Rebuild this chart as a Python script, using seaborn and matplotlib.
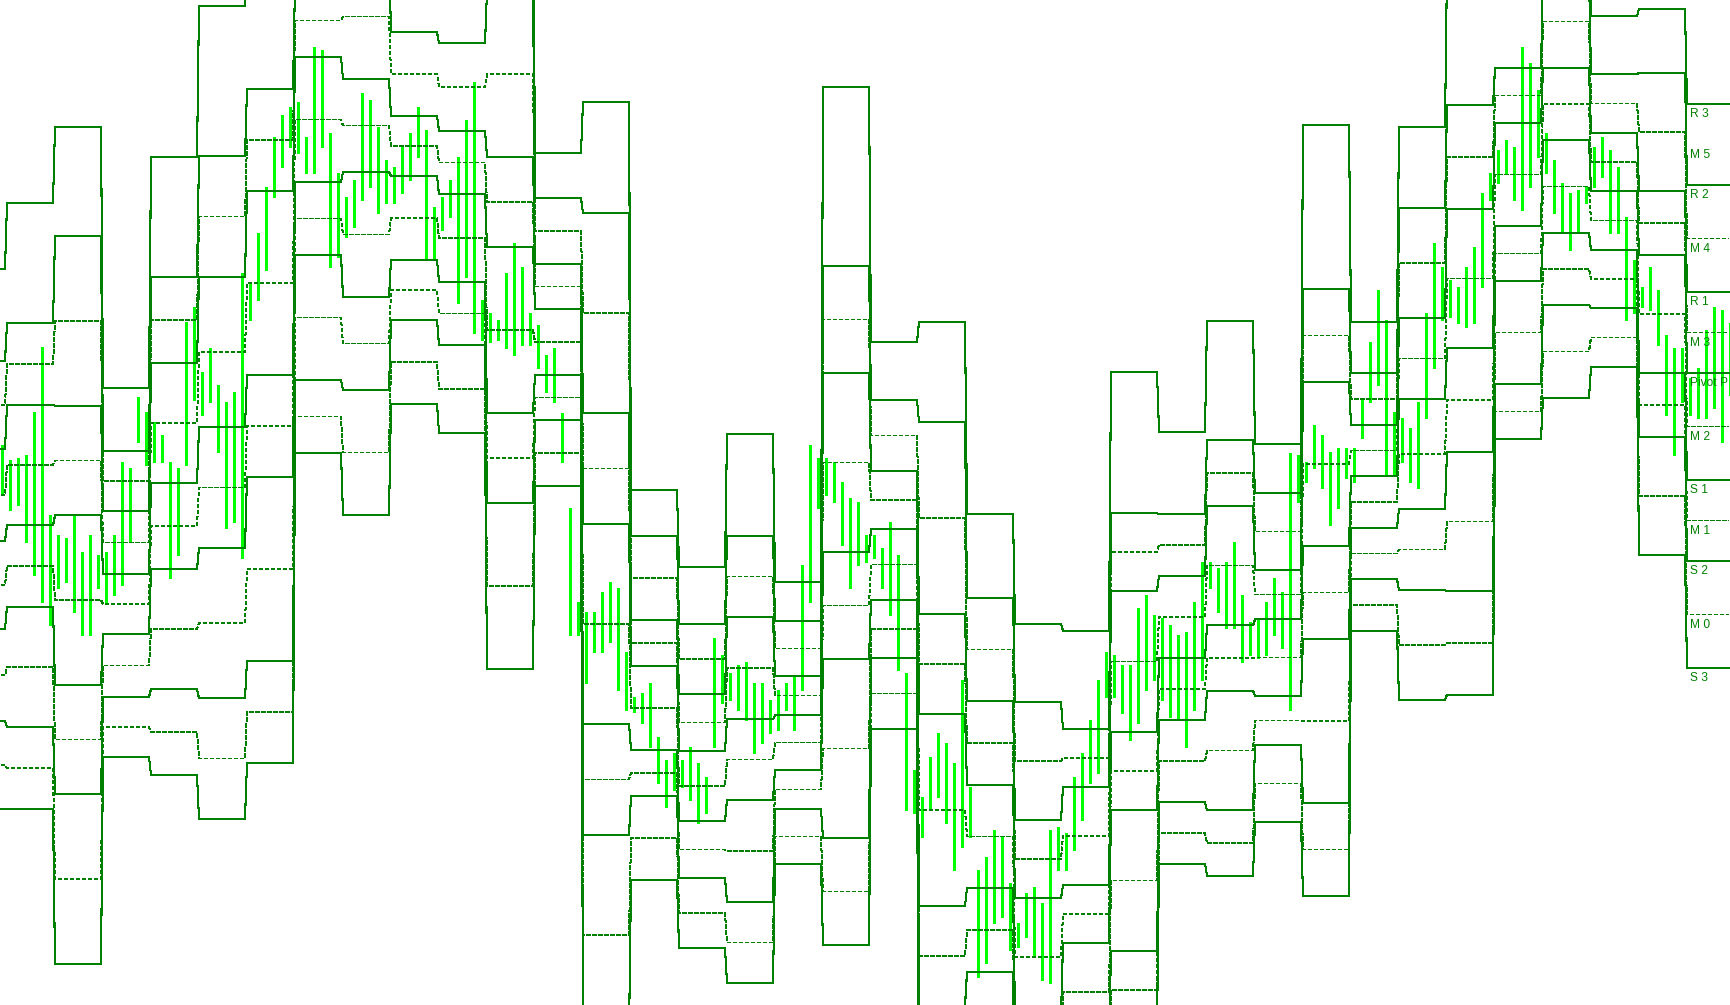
import numpy as np
import pandas as pd
import matplotlib
matplotlib.use("Agg")
import matplotlib.pyplot as plt
import seaborn as sns

# ── prior-day high / low / close (price in points) ───────────
# entry i is day i-2; each day's H/L/C sets the pivot grid of the next day
day_high = [552, 561, 659, 491, 608, 698, 732, 896, 958, 913, 898, 924, 761,
            680, 423, 324, 366, 344, 560, 547, 483, 323, 225, 177, 351, 408,
            445, 462, 552, 580, 715, 760, 833, 958, 873, 868, 738]
day_low = [372, 359, 380, 368, 402, 427, 446, 698, 740, 769, 747, 668, 650,
           369, 293, 197, 183, 250, 274, 418, 191, 136, 29, 21, 132, 264,
           260, 336, 295, 477, 524, 517, 675, 793, 756, 686, 550]
day_close = [468, 519, 430, 434, 556, 608, 712, 875, 801, 805, 787, 682, 676,
             393, 301, 241, 308, 275, 525, 463, 199, 201, 67, 161, 336, 368,
             434, 359, 530, 529, 578, 693, 828, 844, 813, 696, 607]

# ── 4-hour price bars (points); the first bar closes at the start of day 0 ──
bar_high = [560,
            545, 547, 550, 593, 658, 490,   470, 467, 490, 453, 470, 450,
            453, 470, 543, 537, 608, 593,   583, 570, 543, 537, 683, 698,
            633, 657, 620, 603, 613, 732,   722, 772, 818, 868, 890, 898,
            903, 868, 958, 955, 872, 832,   808, 825, 912, 905, 878, 845,
            838, 858, 872, 898, 875, 798,   808, 825, 848, 885, 923, 705,
            692, 685, 732, 762, 738, 692,   680, 650, 657, 592, 497, 403,
            393, 393, 413, 423, 417, 353,   308, 312, 322, 268, 245, 252,
            245, 258, 242, 228, 367, 350,   332, 340, 343, 322, 322, 305,
            315, 322, 328, 440, 560, 547,   547, 543, 523, 507, 503, 470,
            470, 457, 483, 450, 332, 235,   208, 248, 272, 262, 242, 325,
            218, 135, 148, 175, 168, 122,   82, 112, 118, 102, 175, 178,
            172, 228, 252, 285, 325, 353,   350, 340, 340, 397, 410, 390,
            387, 380, 370, 373, 403, 443,   443, 437, 443, 463, 410, 383,
            387, 403, 427, 413, 552, 550,   543, 580, 570, 553, 557, 557,
            557, 607, 663, 715, 685, 593,   587, 577, 603, 692, 762, 738,
            725, 718, 738, 758, 812, 832,   855, 865, 858, 958, 942, 915,
            872, 845, 822, 812, 815, 818,   858, 868, 855, 838, 788, 745,
            718, 738, 715, 670, 657, 657,   627, 637, 675, 698, 695, 682]
bar_low = [510,
           495, 500, 463, 430, 403, 380,   417, 423, 393, 370, 370, 417,
           403, 410, 420, 463, 563, 540,   543, 543, 427, 450, 540, 605,
           590, 603, 553, 477, 483, 447,   685, 705, 735, 808, 838, 858,
           852, 832, 832, 858, 738, 748,   768, 778, 805, 818, 792, 802,
           802, 812, 825, 848, 745, 747,   775, 788, 702, 728, 672, 665,
           663, 665, 657, 650, 660, 660,   637, 613, 603, 543, 370, 370,
           322, 353, 353, 363, 315, 295,   293, 282, 258, 222, 198, 215,
           218, 205, 182, 192, 258, 302,   305, 295, 285, 252, 262, 272,
           275, 295, 275, 315, 403, 497,   510, 503, 460, 417, 440, 443,
           447, 417, 390, 335, 195, 192,   168, 195, 208, 182, 135, 158,
           168, 28, 42, 82, 88, 55,         58, 68, 48, 25, 22, 135,
           135, 155, 185, 222, 232, 308,   308, 292, 265, 282, 315, 325,
           305, 288, 285, 258, 295, 325,   417, 393, 377, 377, 343, 350,
           347, 350, 370, 357, 295, 503,   523, 537, 517, 480, 497, 527,
           523, 567, 603, 620, 530, 530,   543, 523, 517, 587, 637, 685,
           688, 682, 678, 682, 718, 805,   822, 832, 805, 795, 818, 848,
           832, 792, 772, 755, 772, 802,   818, 828, 772, 772, 685, 692,
           698, 695, 660, 590, 550, 603,   590, 587, 587, 597, 563, 610]

level_names = ["R3", "M5", "R2", "M4", "R1", "M3", "P",
               "M2", "S1", "M1", "S2", "M0", "S3"]
label_text = ["R 3", "M 5", "R 2", "M 4", "R 1", "M 3", "Pivot P",
              "M 2", "S 1", "M 1", "S 2", "M 0", "S 3"]

# ── pivot grid from the previous day ─────────────────
H = np.array(day_high, float)
L = np.array(day_low, float)
C = np.array(day_close, float)
P = (H + L + C) / 3
lv = {"P": P,
      "R1": 2 * P - L, "S1": 2 * P - H,
      "R2": P + (H - L), "S2": P - (H - L),
      "R3": H + 2 * (P - L), "S3": L - 2 * (H - P)}
lv["M0"] = (lv["S3"] + lv["S2"]) / 2
lv["M1"] = (lv["S2"] + lv["S1"]) / 2
lv["M2"] = (lv["S1"] + lv["P"]) / 2
lv["M3"] = (lv["P"] + lv["R1"]) / 2
lv["M4"] = (lv["R1"] + lv["R2"]) / 2
lv["M5"] = (lv["R2"] + lv["R3"]) / 2

# hourly points, hour 0 = start of day 0
hours = np.arange(-3, 862)
day_idx = hours // 24 + 1

frames = []
for name in level_names:
    if name == "M5":        # the indicator only labels it
        continue
    frames.append(pd.DataFrame({
        "hour": hours + 0.5,
        "value": lv[name][day_idx],
        "level": name,
        "kind": "mid" if name.startswith("M") else "main",
    }))
df = pd.concat(frames, ignore_index=True)

# ── plot ──────────────────────────────────────────────
sns.set_style("white")
plt.rcParams["font.family"] = ["Liberation Sans", "DejaVu Sans"]
plt.rcParams["lines.scale_dashes"] = False

DPI = 96
fig = plt.figure(figsize=(1730 / DPI, 1005 / DPI), dpi=DPI)
ax = fig.add_axes([0, 0, 1, 1])

# price bars, one stroke per 4-hour bar
centers = 4 * np.arange(len(bar_high)) - 2
ax.vlines(centers, bar_low, bar_high, color="#00ff00", linewidth=2.25,
          antialiased=False, zorder=2)

sns.lineplot(data=df, x="hour", y="value", units="level", estimator=None,
             style="kind", dashes={"main": "", "mid": (2.25, 1.5)},
             color="#008000", linewidth=0.8, legend=False, sort=False,
             antialiased=False, ax=ax, zorder=3)

for name, txt in zip(level_names, label_text):
    ax.text(841.8, lv[name][-1] - 13, txt, color="#008000", fontsize=9,
            ha="left", va="baseline", zorder=4)

ax.set_xlim(-3, 862)
ax.set_ylim(0, 1005)
ax.axis("off")

fig.savefig("out.png", dpi=DPI, facecolor="white")
